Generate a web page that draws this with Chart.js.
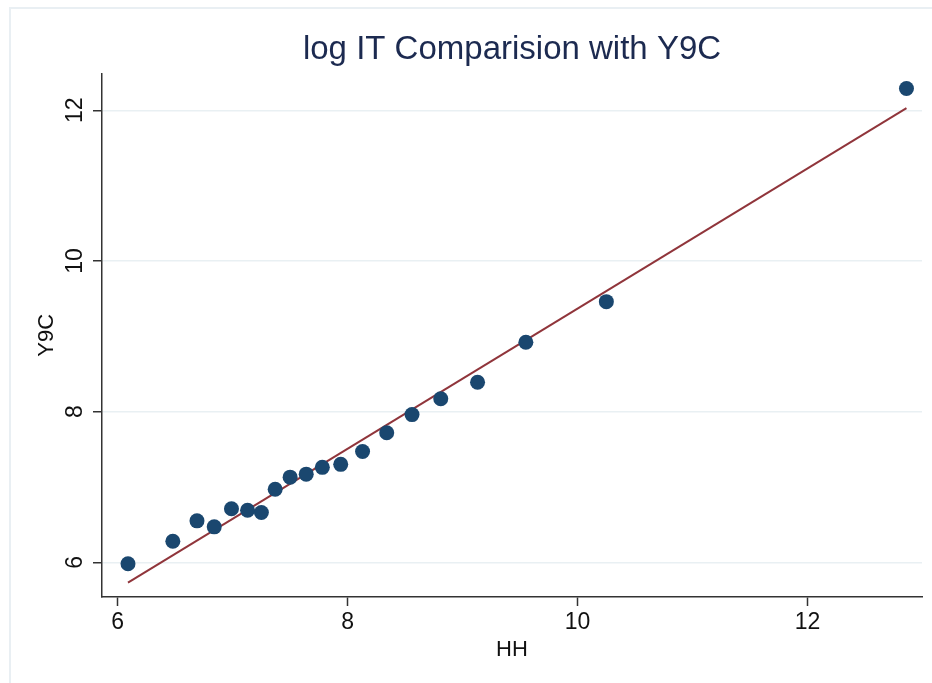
<!DOCTYPE html>
<html>
<head>
<meta charset="utf-8">
<script src="https://cdn.jsdelivr.net/npm/chart.js@4/dist/chart.umd.min.js"></script>
<style>
  html, body { margin: 0; padding: 0; background: #fff; overflow: hidden; }
  #wrap { position: relative; width: 932px; height: 683px; }
  #frame { position: absolute; left: 9px; top: 7px; width: 1000px; height: 1000px;
           border-left: 2px solid #e9eff3; border-top: 2px solid #e9eff3; }
  canvas { position: absolute; left: 0; top: 0; }
</style>
</head>
<body>
<div id="wrap">
  <div id="frame"></div>
  <canvas id="chart" width="932" height="683"></canvas>
</div>
<script>
// scatter points
const hh  = [6.09, 6.48, 6.69, 6.84, 6.99, 7.13, 7.25, 7.37, 7.50, 7.64, 7.78, 7.94, 8.13, 8.34, 8.56, 8.81, 9.13, 9.55, 10.25, 12.86];
const y9c = [5.98, 6.28, 6.55, 6.47, 6.71, 6.69, 6.66, 6.97, 7.13, 7.17, 7.26, 7.30, 7.47, 7.72, 7.96, 8.17, 8.39, 8.92, 9.46, 12.29];

// fitted line end points
const fitX = [6.09, 12.86];
const fitY = [5.73, 12.03];

const xTicks = [6, 8, 10, 12];
const yTicks = [6, 8, 10, 12];

const fam = "'Liberation Sans', Arial, Helvetica, sans-serif";
const tickFont = { family: fam, size: 23 };

// y tick labels are drawn turned on their side, like the original
const sideTicks = {
  id: 'sideTicks',
  afterDraw(chart) {
    const ctx = chart.ctx;
    const y = chart.scales.y;
    ctx.save();
    ctx.font = tickFont.size + 'px ' + tickFont.family;
    ctx.fillStyle = '#111';
    ctx.textAlign = 'center';
    ctx.textBaseline = 'middle';
    y.ticks.forEach(t => {
      ctx.save();
      ctx.translate(76, y.getPixelForValue(t.value));
      ctx.rotate(-Math.PI / 2);
      ctx.fillText(String(t.value), 0, 0);
      ctx.restore();
    });
    ctx.restore();
  }
};

new Chart(document.getElementById('chart'), {
  type: 'scatter',
  data: {
    datasets: [
      {
        label: 'Y9C',
        data: hh.map((x, i) => ({ x, y: y9c[i] })),
        backgroundColor: '#1a476f',
        borderColor: '#1a476f',
        borderWidth: 0,
        pointRadius: 7.5,
        order: 1
      },
      {
        label: 'Fit',
        type: 'line',
        data: fitX.map((x, i) => ({ x, y: fitY[i] })),
        borderColor: '#90353b',
        borderWidth: 2,
        pointRadius: 0,
        fill: false,
        order: 2
      }
    ]
  },
  options: {
    responsive: false,
    animation: false,
    layout: { padding: { left: 0, right: 10, top: 0, bottom: 0 } },
    plugins: {
      legend: { display: false },
      tooltip: { enabled: false },
      title: {
        display: true,
        fullSize: false,
        text: 'log IT Comparision with Y9C',
        color: '#1c2a50',
        font: { family: fam, size: 33, weight: 'normal' },
        padding: { top: 30, bottom: 4 }
      }
    },
    scales: {
      x: {
        type: 'linear',
        min: 5.864,
        max: 12.995,
        afterBuildTicks: s => { s.ticks = xTicks.map(v => ({ value: v })); },
        afterFit: s => { s.height = 86; },
        border: { display: true, color: '#333', width: 1.5 },
        grid: { drawOnChartArea: false, drawTicks: true, tickLength: 9, tickColor: '#333', tickWidth: 1.5 },
        ticks: { color: '#111', font: tickFont, padding: 3, maxRotation: 0 },
        title: {
          display: true,
          text: 'HH',
          color: '#111',
          font: { family: fam, size: 22 },
          padding: { top: 0, bottom: 20 }
        }
      },
      y: {
        type: 'linear',
        min: 5.539,
        max: 12.487,
        afterBuildTicks: s => { s.ticks = yTicks.map(v => ({ value: v })); },
        afterFit: s => { s.width = 102; },
        border: { display: true, color: '#333', width: 1.5 },
        grid: { color: '#e9f0f3', lineWidth: 1.5, drawTicks: true, tickLength: 9, tickColor: '#333', tickWidth: 1.5 },
        ticks: { display: false },
        title: {
          display: true,
          text: 'Y9C',
          color: '#111',
          font: { family: fam, size: 22 },
          padding: { top: 34, bottom: 0 }
        }
      }
    }
  },
  plugins: [sideTicks]
});
</script>
</body>
</html>
